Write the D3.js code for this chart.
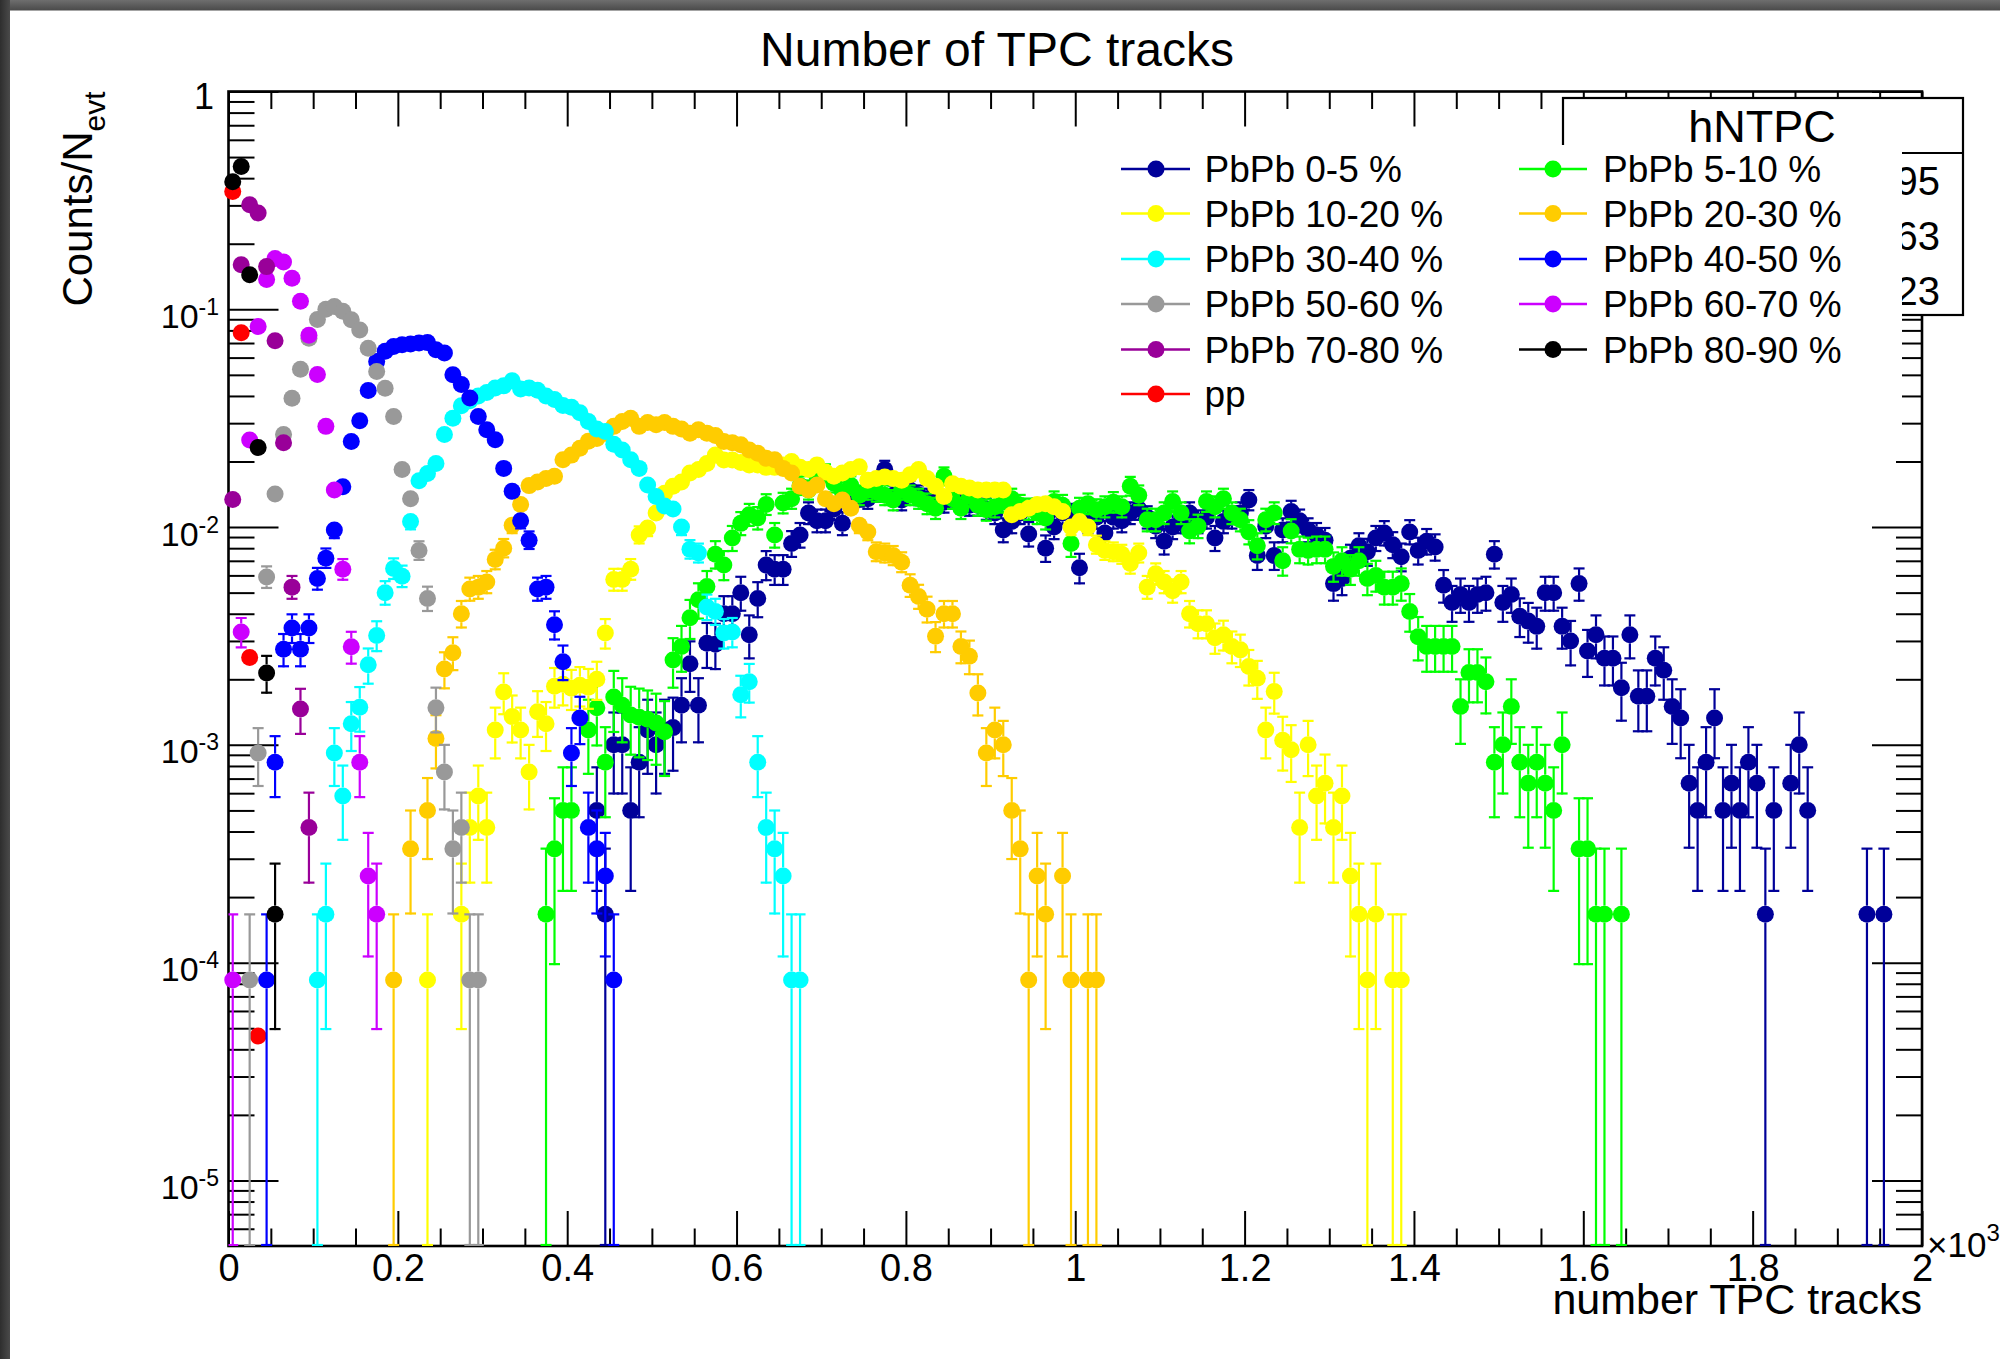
<!DOCTYPE html>
<html>
<head>
<meta charset="utf-8">
<title>Number of TPC tracks</title>
<script src="https://cdn.jsdelivr.net/npm/d3@7/dist/d3.min.js"></script>
<style>
html,body{margin:0;padding:0;background:#ffffff;overflow:hidden;}
svg{display:block;}
text{font-family:"Liberation Sans",Arimo,Arial,Helvetica,sans-serif;fill:#000;}
</style>
</head>
<body>
<svg id="chart" width="2000" height="1359"></svg>
<script>
// ================= DATA =================
const binWidth = 10; // tracks per histogram bin (bin centres at first + k*10)

const xTickValues = [0,200,400,600,800,1000,1200,1400,1600,1800,2000];
const xTickLabels = ["0","0.2","0.4","0.6","0.8","1","1.2","1.4","1.6","1.8","2"];
const yDecades = [1e-5,1e-4,1e-3,1e-2,1e-1,1];
const yDecadeExp = ["-5","-4","-3","-2","-1",""];

const seriesLabels = ["PbPb 0-5 %","PbPb 5-10 %","PbPb 10-20 %","PbPb 20-30 %","PbPb 30-40 %",
  "PbPb 40-50 %","PbPb 50-60 %","PbPb 60-70 %","PbPb 70-80 %","PbPb 80-90 %","pp"];
const seriesFirstBin = [435,375,235,195,105,45,25,5,5,5,5];
const seriesNevt = [6000,6000,12000,12000,12000,12000,12000,12000,12000,12000,0];

const pbpb0_5 = [
 5.0e-4,1.67e-4,0.001,0.001,5.0e-4,8.33e-4,0.00117,0.001,0.00117,0.0012,
 0.00152,0.00236,0.00152,0.00293,0.0029,0.004,0.004,0.005,0.0032,0.0047,
 0.0067,0.0064,0.0064,0.0084,0.0092,0.0116,0.0107,0.0107,0.0121,0.0104,
 0.013,0.0138,0.0135,0.0145,0.0184,0.014,0.0133,0.0148,0.014,0.0135,
 0.0145,0.013,0.0135,0.0138,0.0126,0.0126,0.0121,0.0116,0.0097,0.0106,
 0.0116,0.0093,0.0121,0.008,0.01,0.0116,0.0114,0.0065,0.0106,0.0111,
 0.0094,0.0111,0.0107,0.0116,0.0121,0.0111,0.0101,0.0086,0.01,0.0106,
 0.0116,0.0106,0.0111,0.0089,0.0106,0.0111,0.0116,0.0133,0.0074,0.0101,
 0.0074,0.0097,0.0118,0.0107,0.0097,0.0092,0.0087,0.0055,0.0058,0.0072,
 0.0082,0.0077,0.0089,0.0094,0.0083,0.0073,0.0095,0.0078,0.0086,0.0081,
 0.0054,0.0045,0.0049,0.0045,0.0049,0.005,0.0075,0.0045,0.0049,0.0039,
 0.0037,0.0035,0.005,0.005,0.0035,0.003,0.0055,0.0027,0.0032,0.0025,
 0.0025,0.00183,0.0032,0.00167,0.00167,0.0025,0.0022,0.0015,0.00133,6.67e-4,
 5.0e-4,8.33e-4,0.00133,5.0e-4,6.67e-4,5.0e-4,8.33e-4,6.67e-4,1.67e-4,5.0e-4,
 0,6.67e-4,0.001,5.0e-4,0,0,0,0,0,0,
 1.67e-4,0,1.67e-4];

const pbpb5_10 = [
 1.67e-4,3.33e-4,5.0e-4,5.0e-4,0,0.00117,0.00148,8.33e-4,0.00166,0.00152,
 0.00137,0.00134,0.00131,0.00126,0.00115,0.00245,0.00283,0.00383,0.00464,0.00534,
 0.0075,0.0067,0.0089,0.0104,0.0114,0.011,0.0127,0.0092,0.0129,0.0135,
 0.0155,0.0148,0.0171,0.0177,0.0159,0.0145,0.0155,0.014,0.0148,0.0145,
 0.014,0.0133,0.0148,0.014,0.0135,0.0128,0.0122,0.0171,0.0135,0.0122,
 0.0138,0.0126,0.012,0.0124,0.013,0.0135,0.0126,0.0121,0.0116,0.011,
 0.0131,0.0126,0.0084,0.0122,0.0128,0.012,0.0124,0.013,0.0124,0.0154,
 0.014,0.0108,0.0108,0.0116,0.0131,0.0116,0.0096,0.0101,0.0131,0.0124,
 0.0135,0.0116,0.0108,0.0095,0.0082,0.0108,0.0116,0.007,0.0096,0.0079,
 0.0078,0.0079,0.0079,0.0066,0.007,0.0064,0.007,0.0058,0.006,0.0053,
 0.0053,0.0055,0.0041,0.00314,0.00283,0.00283,0.00283,0.00283,0.0015,0.00215,
 0.00215,0.00195,8.33e-4,0.001,0.0015,8.33e-4,6.67e-4,8.33e-4,6.67e-4,5.0e-4,
 0.001,0,3.33e-4,3.33e-4,1.67e-4,1.67e-4,0,1.67e-4];

const pbpb10_20 = [
 8.33e-5,0,0,0,1.67e-4,4.17e-4,5.83e-4,4.17e-4,0.00117,0.00175,
 0.00135,0.00117,7.5e-4,0.00142,0.00125,0.00186,0.0019,0.00182,0.00188,0.00184,
 0.002,0.00326,0.00574,0.00574,0.0064,0.0092,0.0099,0.0116,0.0143,0.0154,
 0.0161,0.0177,0.0184,0.0196,0.0214,0.0203,0.0203,0.0198,0.0193,0.0193,
 0.0188,0.0188,0.0193,0.02,0.0188,0.0184,0.0193,0.0179,0.0171,0.0177,
 0.0184,0.0189,0.0164,0.0167,0.017,0.0167,0.0164,0.0174,0.0184,0.0167,
 0.0154,0.0138,0.0158,0.0154,0.0151,0.0148,0.0148,0.0148,0.0148,0.0114,
 0.0118,0.0122,0.0127,0.0128,0.0124,0.0118,0.01,0.0106,0.01,0.0083,
 0.0078,0.0077,0.0075,0.0068,0.0076,0.0053,0.0061,0.0056,0.0051,0.0056,
 0.004,0.0036,0.0036,0.0031,0.0032,0.00283,0.00273,0.00229,0.00202,0.00117,
 0.00176,0.00105,9.5e-4,4.17e-4,0.001,5.83e-4,6.67e-4,4.17e-4,5.83e-4,2.5e-4,
 1.67e-4,8.33e-5,1.67e-4,0,8.33e-5,8.33e-5];

const pbpb20_30 = [
 8.33e-5,0,3.33e-4,0,5.0e-4,0.00107,0.00223,0.00265,0.004,0.0052,
 0.0053,0.0056,0.0071,0.008,0.0102,0.0127,0.0155,0.0161,0.0167,0.0171,
 0.0204,0.0214,0.023,0.0248,0.0255,0.027,0.029,0.0305,0.0316,0.029,
 0.0302,0.0295,0.0302,0.029,0.0282,0.027,0.028,0.027,0.0263,0.0247,
 0.0244,0.0239,0.0226,0.0218,0.0207,0.0204,0.0186,0.0177,0.0154,0.0148,
 0.0156,0.0135,0.0128,0.0133,0.0122,0.0102,0.0095,0.0077,0.0076,0.0074,
 0.0069,0.0054,0.0048,0.0042,0.00315,0.004,0.004,0.00283,0.00255,0.00173,
 9.17e-4,0.00117,0.001,5.0e-4,3.33e-4,8.33e-5,2.5e-4,1.67e-4,0,2.5e-4,
 8.33e-5,0,8.33e-5,8.33e-5];

const pbpb30_40 = [
 8.33e-5,1.67e-4,9.17e-4,5.83e-4,0.00125,0.00149,0.00233,0.00318,0.005,0.00645,
 0.00595,0.0106,0.0163,0.0176,0.0196,0.0266,0.0316,0.0361,0.038,0.040,
 0.0415,0.0435,0.0445,0.047,0.043,0.0435,0.0425,0.040,0.0385,0.0362,
 0.0355,0.0335,0.0305,0.0282,0.0275,0.024,0.0226,0.0204,0.0186,0.0156,
 0.0138,0.0125,0.0121,0.010,0.0079,0.0076,0.0043,0.0041,0.00326,0.0033,
 0.0017,0.00195,8.33e-4,4.17e-4,3.33e-4,2.5e-4,8.33e-5,8.33e-5];

const pbpb40_50 = [
 8.33e-5,8.33e-4,0.00275,0.00344,0.00275,0.00344,0.0058,0.0072,0.0097,0.0153,
 0.0247,0.0308,0.0424,0.0576,0.0641,0.0675,0.0688,0.0693,0.070,0.0703,
 0.0652,0.063,0.0501,0.0451,0.0391,0.0322,0.028,0.0252,0.0186,0.0146,
 0.0107,0.0087,0.0052,0.0053,0.00356,0.00241,9.17e-4,0.00133,4.17e-4,3.33e-4,
 2.5e-4,8.33e-5];

const pbpb50_60 = [
 8.33e-5,9.17e-4,0.0059,0.0142,0.0266,0.039,0.053,0.0736,0.0898,0.100,
 0.103,0.098,0.0895,0.0804,0.0663,0.0518,0.0434,0.0322,0.0184,0.0135,
 0.0078,0.0047,0.00148,7.5e-4,3.33e-4,4.17e-4,8.33e-5,8.33e-5];

const pbpb60_70 = [
 8.33e-5,0.0033,0.0251,0.0833,0.137,0.171,0.165,0.139,0.109,0.076,
 0.0502,0.029,0.0148,0.0064,0.00282,8.33e-4,2.5e-4,1.67e-4];

const pbpb70_80 = [0.0134,0.160,0.302,0.277,0.157,0.0717,0.0244,0.0053,0.00146,4.17e-4];

const pbpb80_90 = [0.385,0.452,0.144,0.0232,0.00214,1.67e-4];

const ppValues = [0.347,0.078,0.00252,4.6e-5];

const seriesValues = [pbpb0_5,pbpb5_10,pbpb10_20,pbpb20_30,pbpb30_40,pbpb40_50,
  pbpb50_60,pbpb60_70,pbpb70_80,pbpb80_90,ppValues];

// ================= STYLE =================
const seriesColors = ["#000099","#00ff00","#ffff00","#ffcc00","#00ffff","#0000ff",
  "#999999","#cc00ff","#990099","#000000","#ff0000"];
const drawOrder = [10,0,1,2,3,4,5,6,7,8,9];
const FONT = '"Liberation Sans",Arimo,Arial,Helvetica,sans-serif';
const P = {left:228.5, right:1922, top:91.5, bottom:1246};
const R = 8.5;        // marker radius
const CAP = 5.5;      // error bar cap half-width
const EBW = 2.2;      // error bar width

const svg = d3.select("#chart");
const defs = svg.append("defs");
defs.append("clipPath").attr("id","plotclip").append("rect")
  .attr("x",P.left).attr("y",P.top).attr("width",P.right-P.left).attr("height",P.bottom-P.top);
const tg = defs.append("linearGradient").attr("id","topband").attr("x1",0).attr("y1",0).attr("x2",0).attr("y2",1);
tg.append("stop").attr("offset","0%").attr("stop-color","#6e6e6e");
tg.append("stop").attr("offset","100%").attr("stop-color","#4a4a4a");
const lg = defs.append("linearGradient").attr("id","leftband").attr("x1",0).attr("y1",0).attr("x2",1).attr("y2",0);
lg.append("stop").attr("offset","0%").attr("stop-color","#2e2e2e");
lg.append("stop").attr("offset","100%").attr("stop-color","#4a4a4a");

svg.append("rect").attr("width",2000).attr("height",1359).attr("fill","#ffffff");
svg.append("rect").attr("x",0).attr("y",0).attr("width",2000).attr("height",10.5).attr("fill","url(#topband)");
svg.append("rect").attr("x",0).attr("y",0).attr("width",10).attr("height",1359).attr("fill","url(#leftband)");

// scales
const x = d3.scaleLinear().domain([0,2000]).range([P.left,P.right]);
const y = d3.scaleLog().domain([5e-6,1]).range([P.bottom,P.top]);

const xMinor = d3.range(0,2001,50).filter(v => v % 200 !== 0);
const yMinor = [];
for (let e=-6; e<=-1; e++) for (let m=2; m<=9; m++) { const v = m*Math.pow(10,e); if (v>5.01e-6 && v<1) yMinor.push(v); }

function styleAxis(g){
  g.select(".domain").remove();
  g.selectAll(".tick line").attr("stroke","#000").attr("stroke-width",2);
}
// bottom
svg.append("g").attr("transform",`translate(0,${P.bottom})`)
  .call(d3.axisBottom(x).tickValues(xMinor).tickSizeInner(-17.5).tickSizeOuter(0).tickFormat(""))
  .call(styleAxis);
const gxb = svg.append("g").attr("transform",`translate(0,${P.bottom})`)
  .call(d3.axisBottom(x).tickValues(xTickValues).tickSizeInner(-35).tickSizeOuter(0).tickPadding(8)
    .tickFormat((d,i)=>xTickLabels[i]))
  .call(styleAxis);
gxb.attr("font-family",FONT).attr("font-size",38);
gxb.selectAll(".tick text").attr("fill","#000");
// top
svg.append("g").attr("transform",`translate(0,${P.top})`)
  .call(d3.axisTop(x).tickValues(xMinor).tickSizeInner(-17.5).tickSizeOuter(0).tickFormat("")).call(styleAxis);
svg.append("g").attr("transform",`translate(0,${P.top})`)
  .call(d3.axisTop(x).tickValues(xTickValues).tickSizeInner(-35).tickSizeOuter(0).tickFormat("")).call(styleAxis);
// left
svg.append("g").attr("transform",`translate(${P.left},0)`)
  .call(d3.axisLeft(y).tickValues(yMinor).tickSizeInner(-26).tickSizeOuter(0).tickFormat("")).call(styleAxis);
const gyl = svg.append("g").attr("transform",`translate(${P.left},0)`)
  .call(d3.axisLeft(y).tickValues(yDecades).tickSizeInner(-50).tickSizeOuter(0).tickFormat("")).call(styleAxis);
gyl.selectAll(".tick").each(function(d,i){
  const t = d3.select(this).append("text").attr("font-family",FONT).attr("text-anchor","end").attr("fill","#000");
  if (yDecadeExp[i] === "") {
    t.attr("x",-14.5).attr("y",17).attr("font-size",36).text("1");
  } else {
    t.attr("x",-9.5).attr("y",18).attr("font-size",34);
    t.append("tspan").text("10");
    t.append("tspan").attr("dy",-13).attr("font-size",23).text(yDecadeExp[i]);
  }
});
// right
svg.append("g").attr("transform",`translate(${P.right},0)`)
  .call(d3.axisRight(y).tickValues(yMinor).tickSizeInner(-26).tickSizeOuter(0).tickFormat("")).call(styleAxis);
svg.append("g").attr("transform",`translate(${P.right},0)`)
  .call(d3.axisRight(y).tickValues(yDecades).tickSizeInner(-50).tickSizeOuter(0).tickFormat("")).call(styleAxis);

// frame
svg.append("rect").attr("x",P.left).attr("y",P.top).attr("width",P.right-P.left).attr("height",P.bottom-P.top)
  .attr("fill","none").attr("stroke","#000").attr("stroke-width",2.6);

// titles
svg.append("text").attr("x",997).attr("y",66).attr("text-anchor","middle").attr("font-size",48)
  .attr("font-family",FONT).text("Number of TPC tracks");
svg.append("text").attr("x",P.right).attr("y",1314).attr("text-anchor","end").attr("font-size",43)
  .attr("font-family",FONT).text("number TPC tracks");
const yt = svg.append("text").attr("transform",`translate(92,${P.top}) rotate(-90)`)
  .attr("text-anchor","end").attr("font-size",42).attr("font-family",FONT);
yt.append("tspan").text("Counts/N");
yt.append("tspan").attr("dy",13).attr("font-size",30).text("evt");
const xm = svg.append("text").attr("x",1927).attr("y",1257).attr("font-size",35).attr("font-family",FONT);
xm.append("tspan").text("\u00d710");
xm.append("tspan").attr("dy",-16).attr("font-size",24).text("3");

// data
const dataLayer = svg.append("g");
drawOrder.forEach(si => {
  const vals = seriesValues[si], first = seriesFirstBin[si], col = seriesColors[si], N = seriesNevt[si];
  const pts = vals.map((v,i)=>({t:first+i*binWidth, v:v})).filter(d=>d.v>0);
  const g = dataLayer.append("g");
  const eg = g.append("g").attr("clip-path","url(#plotclip)").attr("stroke",col).attr("stroke-width",EBW);
  if (N > 0) {
    pts.forEach(d => {
      const cx = x(d.t), cy = y(d.v);
      const e = Math.sqrt(d.v / N);
      const yTop = y(d.v + e);
      const lo = d.v - e;
      const yBot = lo > 0 ? Math.min(y(lo), P.bottom) : P.bottom;
      if (cy - yTop > R) {
        eg.append("line").attr("x1",cx).attr("x2",cx).attr("y1",cy-R).attr("y2",yTop);
        eg.append("line").attr("x1",cx-CAP).attr("x2",cx+CAP).attr("y1",yTop).attr("y2",yTop);
      }
      if (yBot - cy > R) {
        eg.append("line").attr("x1",cx).attr("x2",cx).attr("y1",cy+R).attr("y2",yBot);
        eg.append("line").attr("x1",cx-CAP).attr("x2",cx+CAP).attr("y1",yBot-1).attr("y2",yBot-1);
      }
    });
  }
  g.selectAll("circle").data(pts).join("circle")
    .attr("cx",d=>x(d.t)).attr("cy",d=>y(d.v)).attr("r",R).attr("fill",col);
});

// stats box (partially covered by legend)
svg.append("rect").attr("x",1563).attr("y",98).attr("width",400).attr("height",217)
  .attr("fill","#fff").attr("stroke","#000").attr("stroke-width",2.2);
svg.append("line").attr("x1",1563).attr("x2",1963).attr("y1",153).attr("y2",153).attr("stroke","#000").attr("stroke-width",2.2);
svg.append("text").attr("x",1762).attr("y",142).attr("text-anchor","middle").attr("font-size",45)
  .attr("font-family",FONT).text("hNTPC");
const statVals = ["95","63","23"];
const statY = [195,250,305];
statVals.forEach((s,i)=>svg.append("text").attr("x",1940).attr("y",statY[i]).attr("text-anchor","end")
  .attr("font-size",40).attr("font-family",FONT).text(s));

// legend
svg.append("rect").attr("x",1095).attr("y",145).attr("width",807).attr("height",282).attr("fill","#fff");
const rowY = [169,213.5,259,304,349.5,394];
const colLine = [[1121,1190,1156,1204.5],[1519,1587,1553,1603]];
seriesLabels.forEach((lab,i)=>{
  const r = Math.floor(i/2), c = i%2;
  const cy = rowY[r], L = colLine[c], col = seriesColors[i];
  const g = svg.append("g");
  g.append("line").attr("x1",L[0]).attr("x2",L[1]).attr("y1",cy).attr("y2",cy).attr("stroke",col).attr("stroke-width",2.6);
  g.append("circle").attr("cx",L[2]).attr("cy",cy).attr("r",R).attr("fill",col);
  g.append("text").attr("x",L[3]).attr("y",cy+13).attr("font-size",37).attr("font-family",FONT).text(lab);
});
</script>
</body>
</html>
